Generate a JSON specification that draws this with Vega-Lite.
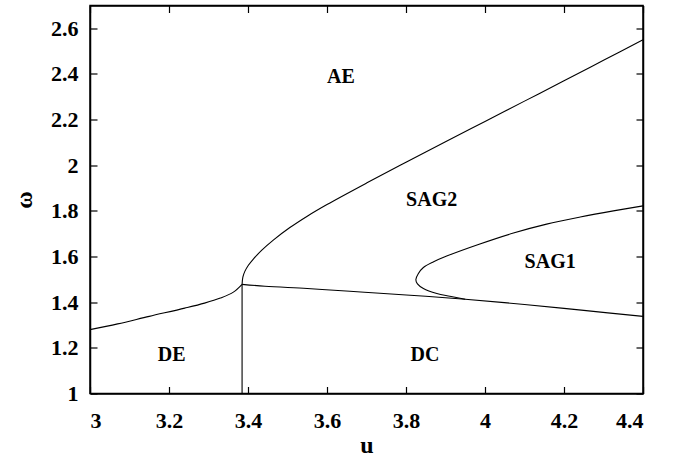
{
  "$schema": "https://vega.github.io/schema/vega-lite/v6.json",
  "width": 553,
  "height": 388,
  "autosize": "none",
  "padding": {"left": 90, "top": 5.5, "right": 30, "bottom": 68.5},
  "background": "white",
  "config": {
    "view": {"stroke": "black", "strokeWidth": 1.5},
    "font": "Liberation Serif",
    "axis": {
      "grid": false,
      "domainColor": "black",
      "domainWidth": 1.5,
      "tickColor": "black",
      "tickWidth": 1.2,
      "tickSize": -7,
      "labelFont": "Liberation Serif",
      "labelFontWeight": "bold",
      "labelFontSize": 22,
      "labelColor": "black",
      "titleFont": "Liberation Serif",
      "titleFontWeight": "bold",
      "titleFontSize": 24,
      "titleColor": "black"
    }
  },
  "datasets": {
    "curves": [
      {"seg": "de", "o": 1, "u": 3.0, "w": 1.28},
      {"seg": "de", "o": 2, "u": 3.07, "w": 1.305},
      {"seg": "de", "o": 3, "u": 3.15, "w": 1.338},
      {"seg": "de", "o": 4, "u": 3.24, "w": 1.374},
      {"seg": "de", "o": 5, "u": 3.29, "w": 1.396},
      {"seg": "de", "o": 6, "u": 3.33, "w": 1.418},
      {"seg": "de", "o": 7, "u": 3.363, "w": 1.444},
      {"seg": "de", "o": 8, "u": 3.385, "w": 1.478},
      {"seg": "vert", "o": 1, "u": 3.385, "w": 1.0},
      {"seg": "vert", "o": 2, "u": 3.385, "w": 1.478},
      {"seg": "dc", "o": 1, "u": 3.385, "w": 1.478},
      {"seg": "dc", "o": 2, "u": 3.443, "w": 1.47},
      {"seg": "dc", "o": 3, "u": 3.55, "w": 1.46},
      {"seg": "dc", "o": 4, "u": 3.658, "w": 1.448},
      {"seg": "dc", "o": 5, "u": 3.734, "w": 1.439},
      {"seg": "dc", "o": 6, "u": 3.85, "w": 1.426},
      {"seg": "dc", "o": 7, "u": 3.95, "w": 1.413},
      {"seg": "dc", "o": 8, "u": 4.1, "w": 1.39},
      {"seg": "dc", "o": 9, "u": 4.25, "w": 1.364},
      {"seg": "dc", "o": 10, "u": 4.4, "w": 1.338},
      {"seg": "sag2", "o": 1, "u": 3.385, "w": 1.478},
      {"seg": "sag2", "o": 2, "u": 3.387, "w": 1.51},
      {"seg": "sag2", "o": 3, "u": 3.392, "w": 1.535},
      {"seg": "sag2", "o": 4, "u": 3.401, "w": 1.562},
      {"seg": "sag2", "o": 5, "u": 3.413, "w": 1.588},
      {"seg": "sag2", "o": 6, "u": 3.435, "w": 1.628},
      {"seg": "sag2", "o": 7, "u": 3.464, "w": 1.672},
      {"seg": "sag2", "o": 8, "u": 3.506, "w": 1.727},
      {"seg": "sag2", "o": 9, "u": 3.55, "w": 1.777},
      {"seg": "sag2", "o": 10, "u": 3.6, "w": 1.828},
      {"seg": "sag2", "o": 11, "u": 3.7, "w": 1.922},
      {"seg": "sag2", "o": 12, "u": 3.8, "w": 2.013},
      {"seg": "sag2", "o": 13, "u": 3.9, "w": 2.103},
      {"seg": "sag2", "o": 14, "u": 4.0, "w": 2.192},
      {"seg": "sag2", "o": 15, "u": 4.1, "w": 2.281},
      {"seg": "sag2", "o": 16, "u": 4.2, "w": 2.37},
      {"seg": "sag2", "o": 17, "u": 4.3, "w": 2.46},
      {"seg": "sag2", "o": 18, "u": 4.4, "w": 2.55},
      {"seg": "sag1", "o": 1, "u": 3.95, "w": 1.413},
      {"seg": "sag1", "o": 2, "u": 3.911, "w": 1.426},
      {"seg": "sag1", "o": 3, "u": 3.878, "w": 1.438},
      {"seg": "sag1", "o": 4, "u": 3.844, "w": 1.46},
      {"seg": "sag1", "o": 5, "u": 3.829, "w": 1.48},
      {"seg": "sag1", "o": 6, "u": 3.825, "w": 1.499},
      {"seg": "sag1", "o": 7, "u": 3.831, "w": 1.525},
      {"seg": "sag1", "o": 8, "u": 3.844, "w": 1.552},
      {"seg": "sag1", "o": 9, "u": 3.87, "w": 1.577},
      {"seg": "sag1", "o": 10, "u": 3.903, "w": 1.602},
      {"seg": "sag1", "o": 11, "u": 3.987, "w": 1.655},
      {"seg": "sag1", "o": 12, "u": 4.072, "w": 1.703},
      {"seg": "sag1", "o": 13, "u": 4.156, "w": 1.742},
      {"seg": "sag1", "o": 14, "u": 4.241, "w": 1.773},
      {"seg": "sag1", "o": 15, "u": 4.325, "w": 1.8},
      {"seg": "sag1", "o": 16, "u": 4.4, "w": 1.822}
    ],
    "labels": [
      {"label": "AE", "u": 3.635, "w": 2.388},
      {"label": "SAG2", "u": 3.865, "w": 1.847},
      {"label": "SAG1", "u": 4.165, "w": 1.576},
      {"label": "DE", "u": 3.207, "w": 1.167},
      {"label": "DC", "u": 3.848, "w": 1.167}
    ]
  },
  "layer": [
    {
      "data": {"name": "curves"},
      "mark": {"type": "line", "color": "black", "strokeWidth": 1.1, "interpolate": "catmull-rom"},
      "encoding": {
        "x": {"field": "u", "type": "quantitative",
              "scale": {"domain": [3, 4.4], "nice": false, "zero": false},
              "axis": {"orient": "bottom", "title": "u", "values": [3, 3.2, 3.4, 3.6, 3.8, 4, 4.2, 4.4], "format": "~g", "labelPadding": 24, "titlePadding": 2}},
        "y": {"field": "w", "type": "quantitative",
              "scale": {"domain": [1, 2.7], "nice": false, "zero": false},
              "axis": {"orient": "left", "title": "ω", "values": [1, 1.2, 1.4, 1.6, 1.8, 2, 2.2, 2.4, 2.6], "format": "~g", "labelPadding": 19, "titlePadding": 14}},
        "detail": {"field": "seg"},
        "order": {"field": "o", "type": "quantitative"}
      }
    },
    {
      "data": {"name": "labels"},
      "mark": {"type": "text", "font": "Liberation Serif", "fontWeight": "bold", "fontSize": 20, "color": "black"},
      "encoding": {
        "x": {"field": "u", "type": "quantitative", "scale": {"domain": [3, 4.4], "nice": false, "zero": false}, "axis": null},
        "y": {"field": "w", "type": "quantitative", "scale": {"domain": [1, 2.7], "nice": false, "zero": false}, "axis": null},
        "text": {"field": "label"}
      }
    },
    {
      "data": {"name": "curves"},
      "mark": {"type": "line", "opacity": 0},
      "encoding": {
        "x": {"field": "u", "type": "quantitative",
              "scale": {"domain": [3, 4.4], "nice": false, "zero": false},
              "axis": {"orient": "top", "title": null, "labels": false, "values": [3, 3.2, 3.4, 3.6, 3.8, 4, 4.2, 4.4]}},
        "y": {"field": "w", "type": "quantitative",
              "scale": {"domain": [1, 2.7], "nice": false, "zero": false},
              "axis": {"orient": "right", "title": null, "labels": false, "values": [1, 1.2, 1.4, 1.6, 1.8, 2, 2.2, 2.4, 2.6]}},
        "detail": {"field": "seg"},
        "order": {"field": "o", "type": "quantitative"}
      }
    }
  ],
  "resolve": {"scale": {"x": "independent", "y": "independent"}, "axis": {"x": "independent", "y": "independent"}}
}
